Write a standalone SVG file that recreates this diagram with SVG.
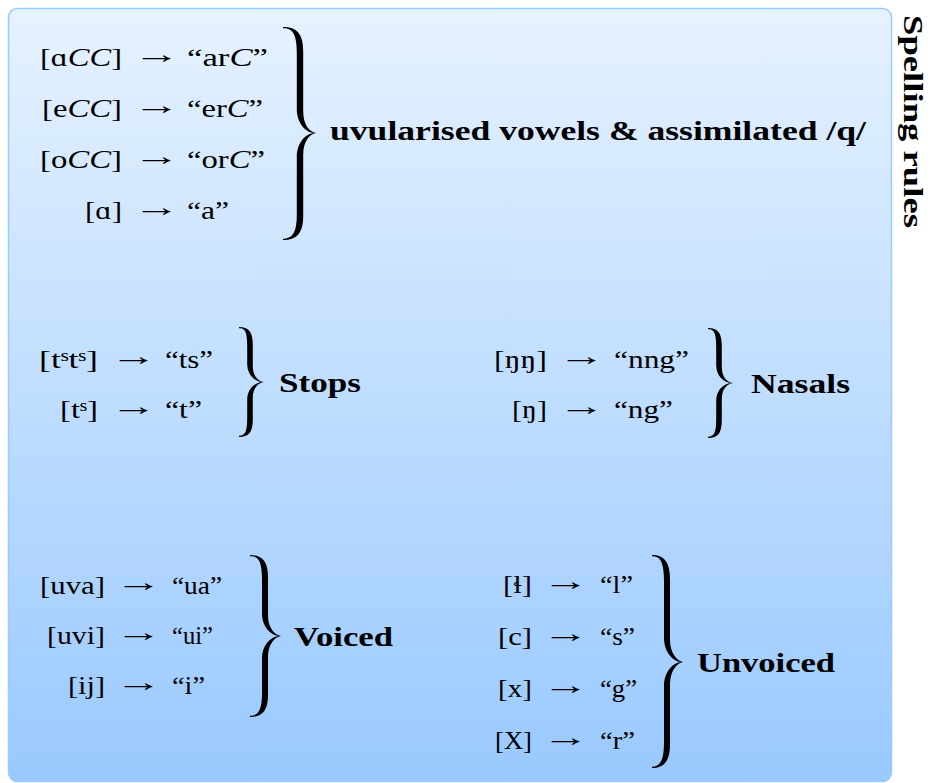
<svg xmlns="http://www.w3.org/2000/svg" width="933" height="783" viewBox="0 0 933 783">
<defs>
<linearGradient id="bg" x1="0" y1="0" x2="0" y2="1">
<stop offset="0" stop-color="#e6f2ff"/>
<stop offset="1" stop-color="#99c9ff"/>
</linearGradient>
<style>
.t{font-family:"Liberation Serif","DejaVu Serif",serif;font-size:26px;fill:#000}
.e{text-anchor:end}
.m{text-anchor:middle;font-family:"Liberation Serif","DejaVu Serif",serif;font-size:26px;fill:#000}
.b{font-family:"Liberation Serif","DejaVu Serif",serif;font-size:28px;font-weight:bold;fill:#000}
.i{font-style:italic}
.br{fill:#000}
</style>
</defs>
<rect x="8.5" y="8.5" width="883" height="773" rx="9" fill="url(#bg)" stroke="#99ccff" stroke-width="1.5"/>
<text class="b" transform="translate(904,15) rotate(90)" textLength="213" lengthAdjust="spacingAndGlyphs">Spelling rules</text>

<g id="uvular">
<text class="t e" x="122" y="66" textLength="82" lengthAdjust="spacingAndGlyphs">[ɑ<tspan class="i">CC</tspan>]</text>
<text class="m" transform="translate(157,63) scale(1.8,1)">→</text>
<text class="t" x="187" y="66" textLength="81" lengthAdjust="spacingAndGlyphs">“ar<tspan class="i">C</tspan>”</text>
<text class="t e" x="122" y="117" textLength="80" lengthAdjust="spacingAndGlyphs">[e<tspan class="i">CC</tspan>]</text>
<text class="m" transform="translate(157,114) scale(1.8,1)">→</text>
<text class="t" x="187" y="117" textLength="76" lengthAdjust="spacingAndGlyphs">“er<tspan class="i">C</tspan>”</text>
<text class="t e" x="122" y="168" textLength="82" lengthAdjust="spacingAndGlyphs">[o<tspan class="i">CC</tspan>]</text>
<text class="m" transform="translate(157,165) scale(1.8,1)">→</text>
<text class="t" x="187" y="168" textLength="78" lengthAdjust="spacingAndGlyphs">“or<tspan class="i">C</tspan>”</text>
<text class="t e" x="122" y="219" textLength="37" lengthAdjust="spacingAndGlyphs">[ɑ]</text>
<text class="m" transform="translate(157,216) scale(1.8,1)">→</text>
<text class="t" x="187" y="219" textLength="42" lengthAdjust="spacingAndGlyphs">“a”</text>
<path class="br" d="M283,27 C297,27 303.2,34 303.2,51 L303.2,111 C303.2,125 309.6,132 316,133 C309.6,134 303.2,141 303.2,155 L303.2,216 C303.2,233 297,240 283,240 L283,238.8 C294,238.5 296.8,230 296.8,214 L296.8,157 C296.8,142 306.4,133.5 314,133 C306.4,132.5 296.8,124 296.8,109 L296.8,53 C296.8,37 294,27.5 283,28.2 Z"/>
<text class="b" x="330" y="140" textLength="536" lengthAdjust="spacingAndGlyphs">uvularised vowels &amp; assimilated /q/</text>
</g>

<g id="stops">
<text class="t e" x="98" y="368" textLength="59" lengthAdjust="spacingAndGlyphs">[tˢtˢ]</text>
<text class="m" transform="translate(134,365) scale(1.8,1)">→</text>
<text class="t" x="165" y="368" textLength="48" lengthAdjust="spacingAndGlyphs">“ts”</text>
<text class="t e" x="98" y="418" textLength="38" lengthAdjust="spacingAndGlyphs">[tˢ]</text>
<text class="m" transform="translate(134,415) scale(1.8,1)">→</text>
<text class="t" x="165" y="418" textLength="37" lengthAdjust="spacingAndGlyphs">“t”</text>
<path class="br" d="M239,327 C249,327 252.8,332 252.8,345 L252.8,366 C252.8,376 258,381 264,382 C258,383 252.8,388 252.8,398 L252.8,419 C252.8,432 249,437 239,437 L239,435.8 C246,435.5 247.2,430 247.2,417 L247.2,400 C247.2,389 255,382.5 262,382 C255,381.5 247.2,375 247.2,364 L247.2,347 C247.2,334 246,327.5 239,328.2 Z"/>
<text class="b" x="279" y="392" textLength="82" lengthAdjust="spacingAndGlyphs">Stops</text>
</g>

<g id="nasals">
<text class="t e" x="547" y="368" textLength="53" lengthAdjust="spacingAndGlyphs">[ŋŋ]</text>
<text class="m" transform="translate(582,365) scale(1.8,1)">→</text>
<text class="t" x="614" y="368" textLength="75" lengthAdjust="spacingAndGlyphs">“nng”</text>
<text class="t e" x="547" y="418" textLength="35" lengthAdjust="spacingAndGlyphs">[ŋ]</text>
<text class="m" transform="translate(582,415) scale(1.8,1)">→</text>
<text class="t" x="614" y="418" textLength="59" lengthAdjust="spacingAndGlyphs">“ng”</text>
<path class="br" transform="translate(469,1)" d="M239,327 C249,327 252.8,332 252.8,345 L252.8,366 C252.8,376 258,381 264,382 C258,383 252.8,388 252.8,398 L252.8,419 C252.8,432 249,437 239,437 L239,435.8 C246,435.5 247.2,430 247.2,417 L247.2,400 C247.2,389 255,382.5 262,382 C255,381.5 247.2,375 247.2,364 L247.2,347 C247.2,334 246,327.5 239,328.2 Z"/>
<text class="b" x="751" y="393" textLength="99" lengthAdjust="spacingAndGlyphs">Nasals</text>
</g>

<g id="voiced">
<text class="t e" x="105" y="594" textLength="65" lengthAdjust="spacingAndGlyphs">[uva]</text>
<text class="m" transform="translate(139,591) scale(1.8,1)">→</text>
<text class="t" x="172" y="594" textLength="50" lengthAdjust="spacingAndGlyphs">“ua”</text>
<text class="t e" x="105" y="644" textLength="58" lengthAdjust="spacingAndGlyphs">[uvi]</text>
<text class="m" transform="translate(139,641) scale(1.8,1)">→</text>
<text class="t" x="172" y="644" textLength="41" lengthAdjust="spacingAndGlyphs">“ui”</text>
<text class="t e" x="105" y="694" textLength="37" lengthAdjust="spacingAndGlyphs">[ij]</text>
<text class="m" transform="translate(139,691) scale(1.8,1)">→</text>
<text class="t" x="172" y="694" textLength="33" lengthAdjust="spacingAndGlyphs">“i”</text>
<path class="br" d="M250,555 C262,555 268,561 268,577 L268,616 C268,628 275,635 281,636 C275,637 268,644 268,656 L268,695 C268,711 262,717 250,717 L250,715.8 C259,715.5 262,709 262,693 L262,658 C262,645 271,636.5 279,636 C271,635.5 262,627 262,614 L262,579 C262,563 259,555.5 250,556.2 Z"/>
<text class="b" x="294" y="646" textLength="99" lengthAdjust="spacingAndGlyphs">Voiced</text>
</g>

<g id="unvoiced">
<text class="t e" x="532" y="593" textLength="29" lengthAdjust="spacingAndGlyphs">[ɬ]</text>
<text class="m" transform="translate(566,590) scale(1.8,1)">→</text>
<text class="t" x="600" y="593" textLength="33" lengthAdjust="spacingAndGlyphs">“l”</text>
<text class="t e" x="532" y="645" textLength="34" lengthAdjust="spacingAndGlyphs">[c]</text>
<text class="m" transform="translate(566,642) scale(1.8,1)">→</text>
<text class="t" x="600" y="645" textLength="35" lengthAdjust="spacingAndGlyphs">“s”</text>
<text class="t e" x="532" y="697" textLength="34" lengthAdjust="spacingAndGlyphs">[x]</text>
<text class="m" transform="translate(566,694) scale(1.8,1)">→</text>
<text class="t" x="600" y="697" textLength="37" lengthAdjust="spacingAndGlyphs">“g”</text>
<text class="t e" x="532" y="749" textLength="37" lengthAdjust="spacingAndGlyphs">[X]</text>
<text class="m" transform="translate(566,746) scale(1.8,1)">→</text>
<text class="t" x="600" y="749" textLength="35" lengthAdjust="spacingAndGlyphs">“r”</text>
<path class="br" d="M652,555 C664,555 670,562 670,579 L670,640 C670,653 677,661 683,662 C677,663 670,671 670,684 L670,744 C670,761 664,768 652,768 L652,766.8 C661,766.5 664,759 664,742 L664,686 C664,672 673,662.5 681,662 C673,661.5 664,652 664,638 L664,581 C664,564 661,555.5 652,556.2 Z"/>
<text class="b" x="697" y="672" textLength="138" lengthAdjust="spacingAndGlyphs">Unvoiced</text>
</g>
</svg>
